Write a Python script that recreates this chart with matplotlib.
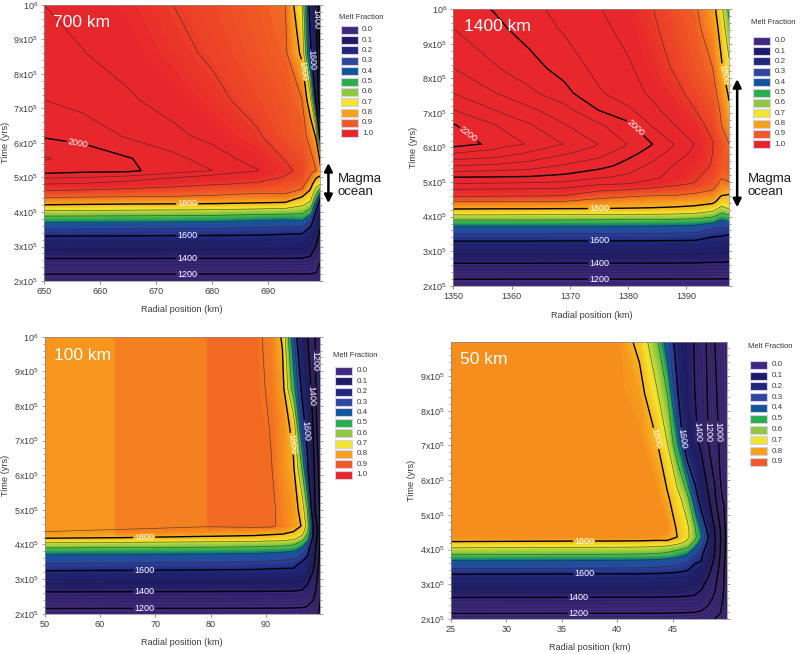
# plot.py
# Melt fraction contours for four body radii, temperature isotherms on top
import numpy as np
import matplotlib
matplotlib.use("Agg")
import matplotlib.pyplot as plt
from matplotlib.colors import LinearSegmentedColormap
from matplotlib.patches import Rectangle

plt.rcParams['font.family'] = ['Liberation Sans', 'DejaVu Sans']
plt.rcParams['mathtext.default'] = 'regular'

W, H = 800.0, 654.0

melt_labels = ['0.0', '0.1', '0.2', '0.3', '0.4', '0.5', '0.6', '0.7', '0.8', '0.9', '1.0']
melt_colors = ['#40287f', '#1e1c68', '#20277c', '#2d479e', '#11569b', '#28ae4b',
               '#8fc83f', '#f3e52d', '#f7a11b', '#f05a24', '#e7252b']
melt_temps = [1200, 1400, 1500, 1600, 1650, 1680, 1700, 1740, 1770, 1815, 1850, 1905]
melt_values = [0.0, 0.04, 0.1, 0.2, 0.3, 0.4, 0.5, 0.6, 0.7, 0.8, 0.9, 1.0]

thick_levels = [1000, 1200, 1400, 1600, 1800, 2000, 2200]
thin_levels = [v for v in range(800, 2280, 40) if v not in thick_levels]

y_tick_labels = ['2x10^{5}', '3x10^{5}', '4x10^{5}', '5x10^{5}', '6x10^{5}',
                 '7x10^{5}', '8x10^{5}', '9x10^{5}', '10^{6}']
y_ticks = [2, 3, 4, 5, 6, 7, 8, 9, 10]

# 700 km panel
r_700 = [650, 657, 665, 673, 680, 688, 693, 696, 697.5, 698.5, 699.3]
t_700 = [2.0, 2.2, 2.65, 3.3, 3.55, 3.8, 4.0, 4.21, 4.42, 4.62, 4.81, 4.98, 5.12, 5.2, 5.55, 6.2, 7.25, 8.6, 10.0]
temp_700 = [
    [1090, 1200, 1400, 1600, 1650, 1700, 1750, 1800, 1840, 1880, 1920, 1960, 2000, 2016, 2044, 1996, 1960, 1936, 1920],
    [1090, 1200, 1400, 1599, 1649, 1699, 1749, 1798, 1838, 1876, 1915, 1955, 1996, 2006, 2022, 1988, 1943, 1921, 1908],
    [1090, 1200, 1400, 1598, 1648, 1698, 1748, 1796, 1836, 1870, 1903, 1938, 1985, 2010, 2003, 1955, 1925, 1905, 1897],
    [1090, 1200, 1399, 1597, 1647, 1697, 1746, 1795, 1835, 1863, 1893, 1917, 1958, 1975, 1972, 1930, 1904, 1889, 1880],
    [1090, 1199, 1399, 1596, 1646, 1695, 1744, 1794, 1833, 1855, 1883, 1905, 1928, 1960, 1940, 1908, 1889, 1875, 1867],
    [1090, 1199, 1399, 1595, 1640, 1690, 1738, 1790, 1828, 1848, 1875, 1892, 1907, 1922, 1902, 1884, 1867, 1856, 1850],
    [1090, 1199, 1398, 1590, 1636, 1686, 1735, 1785, 1830, 1848, 1860, 1876, 1884, 1890, 1878, 1860, 1854, 1845, 1840],
    [1088, 1198, 1397, 1585, 1638, 1690, 1730, 1765, 1796, 1836, 1852, 1862, 1866, 1868, 1862, 1850, 1840, 1792, 1760],
    [1088, 1197, 1385, 1530, 1598, 1650, 1700, 1745, 1775, 1795, 1815, 1835, 1842, 1844, 1846, 1830, 1770, 1620, 1560],
    [1075, 1192, 1300, 1470, 1530, 1560, 1590, 1640, 1700, 1745, 1775, 1800, 1820, 1840, 1832, 1795, 1580, 1500, 1390],
    [1020, 1130, 1215, 1340, 1400, 1450, 1500, 1550, 1600, 1690, 1760, 1795, 1805, 1805, 1790, 1550, 1250, 1120, 1060],
]
cap_700 = [1.0] * len(r_700)
labels_700 = [(656, 6.04), (675.5, 4.26), (675.5, 3.35), (675.5, 2.68), (675.5, 2.2),
              (695.6, 8.1), (697.5, 8.4), (698.1, 9.6)]

# 1400 km panel
r_1400 = [1350, 1357, 1363, 1369, 1375, 1380, 1384, 1388, 1391.5, 1394.5, 1396, 1397.3]
t_1400 = [2.0, 2.19, 2.65, 3.29, 3.5, 3.71, 3.9, 4.05, 4.22, 4.43, 4.58, 4.79, 4.96, 5.14, 5.47, 5.83, 6.02, 6.1, 6.65, 7.09, 7.57, 8.3, 9.45, 10.0]
temp_1400 = [
    [1140, 1200, 1400, 1600, 1640, 1680, 1720, 1760, 1800, 1840, 1880, 1920, 1960, 2000, 2080, 2160, 2200, 2230, 2203, 2160, 2120, 2080, 2040, 2020],
    [1140, 1200, 1400, 1600, 1640, 1680, 1720, 1760, 1799, 1839, 1878, 1918, 1958, 1998, 2072, 2145, 2170, 2186, 2162, 2120, 2082, 2044, 2010, 1998],
    [1140, 1199, 1400, 1600, 1640, 1680, 1720, 1759, 1799, 1838, 1877, 1916, 1955, 1996, 2060, 2115, 2140, 2156, 2124, 2088, 2050, 2015, 1984, 1974],
    [1140, 1199, 1399, 1599, 1639, 1679, 1719, 1759, 1798, 1837, 1875, 1913, 1950, 1988, 2035, 2085, 2108, 2119, 2083, 2055, 2013, 1985, 1955, 1944],
    [1140, 1199, 1399, 1599, 1639, 1679, 1718, 1758, 1798, 1828, 1848, 1890, 1928, 1965, 2015, 2055, 2075, 2078, 2046, 1998, 1965, 1947, 1931, 1922],
    [1140, 1199, 1399, 1598, 1638, 1678, 1717, 1757, 1797, 1822, 1841, 1882, 1922, 1950, 1985, 2012, 2034, 2038, 2010, 1968, 1936, 1926, 1906, 1900],
    [1140, 1199, 1398, 1598, 1637, 1677, 1716, 1756, 1796, 1819, 1836, 1873, 1905, 1930, 1950, 1985, 1996, 2002, 1958, 1930, 1914, 1898, 1886, 1882],
    [1140, 1198, 1398, 1597, 1636, 1675, 1714, 1754, 1794, 1815, 1835, 1868, 1888, 1905, 1917, 1940, 1955, 1958, 1920, 1903, 1890, 1876, 1865, 1860],
    [1140, 1198, 1397, 1596, 1634, 1672, 1710, 1750, 1790, 1812, 1828, 1855, 1878, 1885, 1895, 1910, 1915, 1918, 1895, 1880, 1868, 1855, 1848, 1844],
    [1140, 1198, 1392, 1575, 1618, 1650, 1700, 1735, 1775, 1808, 1822, 1842, 1855, 1864, 1877, 1880, 1880, 1882, 1868, 1860, 1852, 1840, 1823, 1815],
    [1138, 1197, 1392, 1575, 1612, 1645, 1680, 1710, 1745, 1785, 1797, 1822, 1832, 1842, 1852, 1858, 1858, 1858, 1840, 1835, 1825, 1805, 1785, 1770],
    [1130, 1195, 1390, 1560, 1605, 1650, 1690, 1720, 1760, 1780, 1795, 1812, 1838, 1845, 1850, 1845, 1842, 1840, 1820, 1806, 1795, 1770, 1730, 1710],
]
cap_1400 = [1.0] * len(r_1400)
labels_1400 = [(1352.5, 6.36), (1381.3, 6.58), (1375, 4.25), (1395.8, 8.1), (1375, 3.31), (1375, 2.67), (1375, 2.2)]

# 100 km panel
r_100 = [50, 62.6, 63.2, 79.2, 79.8, 88, 91, 93, 95, 96.5, 97.5, 98.5, 99, 99.5, 99.9]
t_100 = [2.0, 2.15, 2.63, 3.24, 3.45, 3.7, 3.9, 4.05, 4.18, 4.37, 4.53, 5.0, 6.2, 7.45, 8.5, 10.0]
temp_100 = [
    [1145, 1200, 1400, 1600, 1640, 1680, 1720, 1760, 1800, 1840, 1850, 1855, 1860, 1862, 1862, 1860],
    [1145, 1199, 1399, 1598, 1638, 1678, 1718, 1757, 1797, 1835, 1848, 1855, 1860, 1860, 1860, 1858],
    [1145, 1199, 1399, 1598, 1638, 1678, 1718, 1757, 1797, 1835, 1848, 1855, 1860, 1860, 1860, 1858],
    [1144, 1198, 1397, 1595, 1635, 1675, 1715, 1752, 1790, 1825, 1842, 1852, 1857, 1858, 1858, 1856],
    [1144, 1198, 1397, 1595, 1635, 1675, 1715, 1752, 1790, 1825, 1842, 1852, 1857, 1858, 1858, 1856],
    [1143, 1197, 1396, 1593, 1632, 1672, 1712, 1749, 1786, 1820, 1846, 1852, 1854, 1852, 1850, 1848],
    [1143, 1196, 1395, 1590, 1628, 1668, 1708, 1745, 1782, 1815, 1845, 1846, 1841, 1838, 1834, 1830],
    [1142, 1195, 1394, 1588, 1625, 1665, 1705, 1745, 1780, 1812, 1831, 1830, 1823, 1825, 1815, 1795],
    [1140, 1193, 1392, 1590, 1620, 1660, 1700, 1735, 1770, 1800, 1818, 1820, 1805, 1785, 1700, 1655],
    [1135, 1190, 1385, 1565, 1590, 1640, 1680, 1710, 1745, 1780, 1798, 1785, 1720, 1640, 1590, 1520],
    [1120, 1180, 1340, 1520, 1560, 1610, 1640, 1670, 1700, 1730, 1745, 1720, 1620, 1570, 1500, 1410],
    [1080, 1140, 1270, 1410, 1460, 1510, 1540, 1570, 1590, 1610, 1610, 1560, 1480, 1400, 1350, 1260],
    [1040, 1090, 1200, 1320, 1360, 1390, 1410, 1440, 1460, 1480, 1470, 1380, 1320, 1240, 1210, 1185],
    [1000, 1030, 1110, 1180, 1220, 1260, 1290, 1320, 1340, 1360, 1360, 1300, 1200, 1140, 1120, 1100],
    [950, 970, 1020, 1060, 1080, 1100, 1120, 1130, 1140, 1150, 1150, 1120, 1080, 1050, 1040, 1030],
]
cap_100 = [0.82, 0.82, 0.85, 0.85, 0.875, 0.875, 0.875, 0.875, 0.875, 1.0, 1.0, 1.0, 1.0, 1.0, 1.0]
labels_100 = [(68, 4.2), (68, 3.27), (68, 2.64), (68, 2.16), (94.3, 6.9), (97.6, 7.3), (98.5, 8.3), (99.2, 9.3)]

# 50 km panel
r_50 = [25, 35, 40, 42, 43.6, 44.5, 45.4, 46.3, 47, 47.6, 48.2, 48.8, 49.3, 49.6, 49.9]
t_50 = [2.0, 2.16, 2.62, 3.29, 3.45, 3.68, 3.85, 4.05, 4.23, 4.36, 4.6, 5.5, 7.1, 8.5, 9.97]
temp_50 = [
    [1130, 1200, 1400, 1600, 1640, 1680, 1720, 1760, 1800, 1828, 1835, 1835, 1835, 1835, 1835],
    [1130, 1199, 1399, 1598, 1638, 1678, 1718, 1757, 1797, 1827, 1835, 1835, 1835, 1835, 1835],
    [1129, 1198, 1398, 1597, 1637, 1677, 1717, 1756, 1796, 1826, 1835, 1835, 1835, 1835, 1825],
    [1128, 1198, 1398, 1597, 1636, 1676, 1716, 1755, 1795, 1825, 1835, 1835, 1835, 1815, 1790],
    [1127, 1197, 1397, 1595, 1634, 1673, 1713, 1752, 1792, 1822, 1835, 1830, 1800, 1763, 1726],
    [1126, 1196, 1396, 1592, 1630, 1668, 1708, 1745, 1795, 1815, 1825, 1806, 1760, 1720, 1660],
    [1124, 1194, 1394, 1588, 1625, 1660, 1695, 1735, 1780, 1800, 1797, 1775, 1690, 1610, 1570],
    [1120, 1190, 1390, 1580, 1612, 1648, 1680, 1720, 1755, 1770, 1770, 1733, 1535, 1490, 1467],
    [1115, 1185, 1385, 1540, 1578, 1615, 1645, 1680, 1715, 1730, 1725, 1650, 1440, 1400, 1390],
    [1100, 1170, 1350, 1500, 1530, 1602, 1610, 1640, 1665, 1685, 1670, 1540, 1360, 1320, 1280],
    [1060, 1130, 1270, 1420, 1460, 1510, 1540, 1570, 1590, 1600, 1575, 1420, 1200, 1180, 1165],
    [1000, 1070, 1170, 1290, 1330, 1370, 1390, 1405, 1410, 1410, 1390, 1230, 1080, 1040, 1000],
    [975, 1000, 1050, 1120, 1140, 1170, 1190, 1200, 1210, 1215, 1195, 1020, 960, 930, 910],
    [900, 920, 985, 1015, 1020, 1035, 1045, 1050, 1055, 1060, 1050, 985, 900, 880, 860],
    [850, 860, 880, 900, 910, 920, 930, 940, 945, 950, 940, 900, 860, 840, 820],
]
cap_50 = [0.83] * 10 + [1.0] * 5
labels_50 = [(37, 4.25), (37, 3.3), (36.5, 2.65), (36.5, 2.17), (43.5, 7.2), (46.05, 7.2), (47.3, 7.4), (48.2, 7.4), (49, 7.4)]

melt_cmap = LinearSegmentedColormap.from_list('melt', melt_colors, N=256)
fill_levels = np.linspace(0.0, 1.0, 101)


def drawPanel(fig, box, r_vals, t_vals, temps, caps, label_pts, x_lim, x_ticks, top, name, name_xy, xlabel_xy, ylabel_xy):
    left, ytop, right, ybot = box
    ax = fig.add_axes([left / W, 1 - ybot / H, (right - left) / W, (ybot - ytop) / H])

    r_arr = np.array(r_vals)
    t_arr = np.array(t_vals) * 1e5
    temp_arr = np.array(temps, dtype=float).T
    melt = np.interp(temp_arr, melt_temps, melt_values)
    melt = np.minimum(melt, np.array(caps))

    ax.contourf(r_arr, t_arr, melt, levels=fill_levels, cmap=melt_cmap, vmin=0, vmax=1)
    ax.contour(r_arr, t_arr, temp_arr, levels=thin_levels, colors='#20202a', linewidths=0.45, alpha=0.7)
    cs = ax.contour(r_arr, t_arr, temp_arr, levels=thick_levels, colors='k', linewidths=1.0)
    ax.clabel(cs, fmt='%d', fontsize=6.5, colors='white', inline=True, inline_spacing=1,
              manual=[(x, y * 1e5) for x, y in label_pts])

    ax.set_xlim(*x_lim)
    ax.set_ylim(2e5, top)
    ax.set_xticks(x_ticks)
    ticks = [v * 1e5 for v in y_ticks if v * 1e5 <= top]
    ax.set_yticks(ticks)
    ax.set_yticklabels(['$' + s + '$' for s in y_tick_labels[:len(ticks)]])
    ax.set_yticks(np.arange(2e5, top + 1, 2e4), minor=True)
    ax.tick_params(axis='both', which='major', labelsize=6.5, length=2.5, width=0.6, color='#777777',
                   labelcolor='#3c3c3c', pad=2)
    ax.tick_params(axis='y', which='both', right=True, color='#777777', width=0.5)
    ax.tick_params(axis='y', which='minor', length=1.5)
    for spine in ax.spines.values():
        spine.set_color('#8a8a8a')
        spine.set_linewidth(0.5)

    ax.set_xlabel('Radial position (km)', fontsize=6.6, color='#3c3c3c', va='center')
    ax.xaxis.set_label_coords(xlabel_xy[0] / W, 1 - xlabel_xy[1] / H, transform=fig.transFigure)
    ax.set_ylabel('Time (yrs)', fontsize=6.6, color='#3c3c3c', va='center')
    ax.yaxis.set_label_coords(ylabel_xy[0] / W, 1 - ylabel_xy[1] / H, transform=fig.transFigure)

    fig.text(name_xy[0] / W, 1 - name_xy[1] / H, name, color='white', fontsize=12.6, va='center')
    return ax


def drawLegend(fig, rect_x, title_xy, first_y, step, count):
    fig.text(title_xy[0] / W, 1 - title_xy[1] / H, 'Melt Fraction', fontsize=5.5, color='#333333', va='center')
    for i in range(count):
        yc = first_y + i * step
        fig.add_artist(Rectangle((rect_x / W, 1 - (yc + 4) / H), 17 / W, 8 / H, transform=fig.transFigure,
                                 facecolor=melt_colors[i], edgecolor='#d5d0e6', linewidth=0.8))
        fig.text((rect_x + 21.5) / W, 1 - yc / H, melt_labels[i], fontsize=5.8, color='#3c3c3c', va='center')


def drawMagma(ax, fig, x_arrow, t_low, t_high, text_x):
    ax.annotate('', xy=(x_arrow, t_high * 1e5), xytext=(x_arrow, t_low * 1e5), annotation_clip=False,
                arrowprops=dict(arrowstyle='<|-|>', color='k', lw=1.8, mutation_scale=12, shrinkA=0, shrinkB=0))
    fig.text(text_x / W, 1 - 179 / H, 'Magma', fontsize=9.5, color='#1a1a1a', va='center')
    fig.text(text_x / W, 1 - 192 / H, 'ocean', fontsize=9.5, color='#1a1a1a', va='center')


if __name__ == "__main__":
    fig = plt.figure(figsize=(8, 6.54), dpi=100)

    ax1 = drawPanel(fig, (44.3, 5, 320, 281), r_700, t_700, temp_700, cap_700, labels_700, (650, 699.2),
                    [650, 660, 670, 680, 690], 1e6, '700 km', (52.7, 22.7), (182, 310), (5, 142))
    ax2 = drawPanel(fig, (453.3, 9.3, 729, 285.7), r_1400, t_1400, temp_1400, cap_1400, labels_1400, (1350, 1397.3),
                    [1350, 1360, 1370, 1380, 1390], 1e6, '1400 km', (464, 26.7), (591.3, 315), (413, 147))
    ax3 = drawPanel(fig, (44.7, 336.7, 320, 613.7), r_100, t_100, temp_100, cap_100, labels_100, (50, 99.8),
                    [50, 60, 70, 80, 90], 1e6, '100 km', (54, 355.3), (182, 642.7), (5, 475))
    ax4 = drawPanel(fig, (451, 342.3, 727, 619), r_50, t_50, temp_50, cap_50, labels_50, (25, 49.9),
                    [25, 30, 35, 40, 45], 9.97e5, '50 km', (460, 360), (589.3, 647.7), (412, 480))

    drawLegend(fig, 340.7, (339.3, 17.7), 29.7, 10.36, 11)
    drawLegend(fig, 753.3, (751, 23), 40.7, 10.36, 11)
    drawLegend(fig, 335.3, (333, 355.3), 371, 10.37, 11)
    drawLegend(fig, 750.3, (748, 346.7), 364.7, 10.8, 10)

    drawMagma(ax1, fig, 700.7, 4.26, 5.42, 338)
    drawMagma(ax2, fig, 1398.7, 4.27, 7.98, 747.7)

    fig.savefig("out.png", dpi=100)
    plt.close(fig)
